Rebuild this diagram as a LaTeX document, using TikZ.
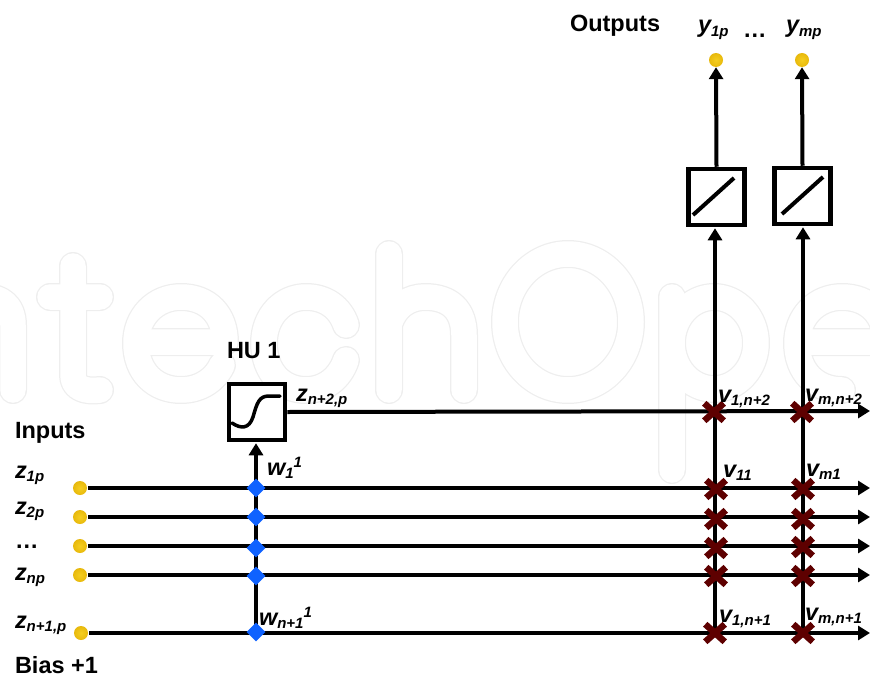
\documentclass[tikz,border=0pt]{standalone}
\usepackage{fontspec}
\setmainfont{Liberation Sans}
\usetikzlibrary{arrows.meta,shapes.geometric,shapes.misc}
\pgfdeclarelayer{wmlayer}
\pgfdeclarelayer{linelayer}
\pgfsetlayers{wmlayer,linelayer,main}
\definecolor{wmgray}{HTML}{EEEEEE}
\definecolor{crossred}{HTML}{5E0000}
\definecolor{crossblue}{HTML}{0F62FF}
\definecolor{goldA}{HTML}{F5CE20}
\definecolor{goldB}{HTML}{E8B90C}
\definecolor{goldC}{HTML}{D6A820}
\definecolor{goldD}{HTML}{DCC878}
\pgfdeclareradialshading{goldball}{\pgfpoint{0bp}{0bp}}{
  color(0bp)=(goldA);
  color(25bp)=(goldB);
  color(42bp)=(goldC);
  color(50bp)=(goldD);
  color(100bp)=(goldD)}
\newcommand{\mainsz}{\fontsize{23.5}{26}\selectfont\bfseries}
\newcommand{\subsz}{\fontsize{15}{17}\selectfont\bfseries\itshape}
\newcommand{\symlab}[2]{{\mainsz\itshape #1}\raisebox{-3.5pt}{\subsz #2}}
\tikzset{
  x=1pt,y=-1pt,
  conn/.style={line width=4pt,draw=black},
  arr/.style={conn,-{Triangle[length=12pt,width=14pt]}},
  ball/.style={circle,minimum size=14pt,inner sep=0pt,shading=goldball},
  redx/.style={cross out,draw=crossred,line width=6.5pt,minimum width=13pt,minimum height=11pt,inner sep=0pt},
  bluex/.style={diamond,aspect=1,fill=crossblue,minimum size=19pt,inner sep=0pt},
  unitbox/.style={draw=black,fill=white,line width=4.5pt,minimum size=56pt,inner sep=0pt},
  lab/.style={anchor=base west,inner sep=0pt,outer sep=0pt},
  bold/.style={lab,font=\mainsz},
  wmout/.style={draw=wmgray,line width=28pt,line cap=round,line join=round},
  wmin/.style={draw=white,line width=25.5pt,line cap=round,line join=round},
}
\newcommand{\wmletters}[1]{
  \draw[#1] (13,390) -- (13,325) .. controls (13,305) and (0,297) .. (-15,297);
  \draw[#1] (73,266) -- (73,375) .. controls (73,388) and (85,392) .. (100,390) (50,297) -- (100,297);
  \draw[#1] (136,342) -- (225,342) .. controls (225,315) and (208,297) .. (181,297) .. controls (155,297) and (136,317) .. (136,343) .. controls (136,372) and (155,390) .. (181,390) .. controls (200,390) and (215,380) .. (222,365);
  \draw[#1] (346,325) .. controls (340,307) and (325,297) .. (306,297) .. controls (282,297) and (264,317) .. (264,343) .. controls (264,372) and (282,390) .. (306,390) .. controls (325,390) and (340,378) .. (346,360);
  \draw[#1] (389,254) -- (389,390) (389,325) .. controls (395,305) and (410,297) .. (425,297) .. controls (450,297) and (464,310) .. (464,335) -- (464,390);
  \draw[#1] (568,322) ellipse [x radius=63,y radius=68];
  \draw[#1] (672,297) -- (672,470) (714,343) ellipse [x radius=42,y radius=46];
  \draw[#1] (797,342) -- (886,342) .. controls (886,315) and (869,297) .. (842,297) .. controls (816,297) and (797,317) .. (797,343) .. controls (797,372) and (816,390) .. (842,390);
}
\begin{document}
\begin{tikzpicture}
\useasboundingbox (0,0) rectangle (870,677);
\begin{pgfonlayer}{wmlayer}
  \begin{scope}
    \clip (0,0) rectangle (870,677);
    \wmletters{wmout}
    \wmletters{wmin}
  \end{scope}
\end{pgfonlayer}

% units
\node[unitbox] (hu) at (257,412) {};
\node[unitbox] (o1) at (716.5,197) {};
\node[unitbox] (om) at (802.5,196) {};
\draw[line width=3.5pt,line cap=round] (232,423) .. controls (241,429) and (249,429) .. (253,417) .. controls (257,403) and (259,396) .. (269,396) -- (280,396);
\draw[conn] (693,215) -- (734,178);
\draw[conn] (782,214) -- (823,177);

% balls
\node[ball] (i1) at (80,488) {};
\node[ball] (i2) at (80,517) {};
\node[ball] (i3) at (80,546) {};
\node[ball] (i4) at (80,575) {};
\node[ball] (i5) at (81,633) {};
\node[ball] (y1) at (716,60) {};
\node[ball] (ym) at (802,60) {};

% hidden-unit weights
\node[bluex] (b1) at (256,488) {};
\node[bluex] (b2) at (256,517) {};
\node[bluex] (b3) at (256,548) {};
\node[bluex] (b4) at (256,576) {};
\node[bluex] (b5) at (256,632) {};

% output weights
\node[redx] (a0) at (714,412) {};
\node[redx] (a1) at (716,489) {};
\node[redx] (a2) at (716,519) {};
\node[redx] (a3) at (716,548) {};
\node[redx] (a4) at (716,576) {};
\node[redx] (a5) at (715,633) {};
\node[redx] (c0) at (802,412) {};
\node[redx] (c1) at (803,489) {};
\node[redx] (c2) at (803,519) {};
\node[redx] (c3) at (803,547) {};
\node[redx] (c4) at (803,576) {};
\node[redx] (c5) at (803,633) {};

% free ends
\coordinate (e0) at (870,411);
\coordinate (e1) at (870,488);
\coordinate (e2) at (870,517);
\coordinate (e3) at (870,546);
\coordinate (e4) at (870,575);
\coordinate (e5) at (870,633);

\begin{pgfonlayer}{linelayer}
  \draw[arr] (hu.east) -- (e0);
  \draw[arr,shorten <=1pt] (i1.east) -- (e1);
  \draw[arr,shorten <=1pt] (i2.east) -- (e2);
  \draw[arr,shorten <=1pt] (i3.east) -- (e3);
  \draw[arr,shorten <=1pt] (i4.east) -- (e4);
  \draw[arr,shorten <=1pt] (i5.east) -- (e5);
  \draw[arr,shorten >=1pt] (b5.center) -- (b5.center |- hu.south);
  \draw[arr,shorten >=1pt] (a5.center) -- (a5.center |- o1.south);
  \draw[arr,shorten >=1pt] (c5.center) -- (c5.center |- om.south);
  \draw[arr] (o1.north) -- (y1.south);
  \draw[arr] (om.north) -- (ym.south);
\end{pgfonlayer}

% labels
\node[bold] (tout) at (570,32) {Outputs};
\node[lab] (ty1) at (698,33) {\symlab{y}{1p}};
\node[bold] (tdots) at (743,38) {…};
\node[lab] (tym) at (786,33) {\symlab{y}{mp}};
\node[bold] (thu) at (227,358) {HU 1};
\node[bold] (tin) at (15,438) {Inputs};
\node[lab] (tz1) at (15,478) {\symlab{z}{1p}};
\node[lab] (tz2) at (15,514) {\symlab{z}{2p}};
\node[bold] (tzd) at (15,548) {…};
\node[lab] (tzn) at (15,580) {\symlab{z}{np}};
\node[lab] (tzb) at (15,628) {\symlab{z}{n+1,p}};
\node[bold] (tbias) at (15,673.5) {Bias +1};
\node[lab] (tz2p) at (296,401) {\symlab{z}{n+2,p}};
\node[lab] (tw1) at (267,475) {\symlab{w}{1}\raisebox{8pt}{\subsz 1}};
\node[lab] (twb) at (259,625) {\symlab{w}{n+1}\raisebox{8pt}{\subsz 1}};
\node[lab] (tv0) at (718,402) {\symlab{v}{1,n+2}};
\node[lab] (tvm0) at (805,401) {\symlab{v}{m,n+2}};
\node[lab] (tv1) at (723,477) {\symlab{v}{11}};
\node[lab] (tvm1) at (806,476) {\symlab{v}{m1}};
\node[lab] (tv5) at (719,622) {\symlab{v}{1,n+1}};
\node[lab] (tvm5) at (805,620) {\symlab{v}{m,n+1}};
\end{tikzpicture}
\end{document}
